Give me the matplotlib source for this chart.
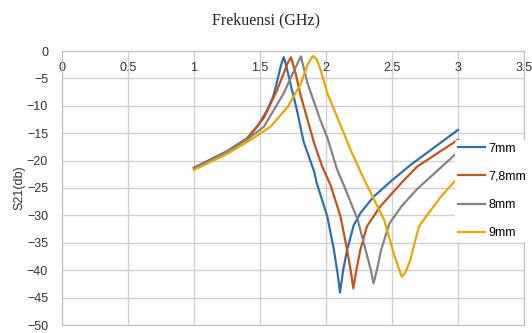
import matplotlib
matplotlib.use("Agg")
import matplotlib.pyplot as plt

# values (frequency GHz, S21 dB)
x_7mm = [1.0, 1.25, 1.4, 1.48, 1.55, 1.6, 1.63, 1.66, 1.68, 1.70, 1.73, 1.78, 1.83, 1.91, 1.93,
         2.01, 2.06, 2.09, 2.106, 2.13, 2.16, 2.21, 2.26, 2.36, 2.5, 2.64, 3.0]
y_7mm = [-21.3, -18.3, -16.0, -13.8, -11.0, -8.3, -5.5, -2.5, -1.1, -2.8, -5.9, -10.8, -16.5, -22.0, -24.1,
         -30.2, -36.3, -41.0, -44.1, -40.0, -36.3, -31.8, -29.6, -26.6, -23.6, -20.8, -14.4]

x_78mm = [1.0, 1.25, 1.4, 1.53, 1.63, 1.71, 1.735, 1.77, 1.81, 1.91, 1.97, 2.035,
          2.11, 2.16, 2.19, 2.207, 2.23, 2.26, 2.31, 2.41, 2.57, 2.69, 3.0]
y_78mm = [-21.4, -18.3, -16.0, -12.2, -7.1, -2.2, -1.15, -4.1, -8.3, -16.8, -21.0, -24.5,
          -30.2, -36.3, -40.5, -43.3, -40.0, -36.3, -32.0, -28.4, -24.1, -21.1, -16.2]

x_8mm = [1.0, 1.25, 1.4, 1.53, 1.68, 1.76, 1.81, 1.86, 1.96, 2.01, 2.085, 2.135,
         2.24, 2.30, 2.34, 2.36, 2.39, 2.415, 2.48, 2.57, 2.69, 3.0]
y_8mm = [-21.5, -18.4, -16.2, -13.8, -7.7, -3.5, -1.0, -5.9, -12.8, -15.8, -21.7, -24.5,
         -30.8, -36.3, -40.0, -42.4, -39.5, -36.5, -31.5, -28.4, -25.2, -18.4]

x_9mm = [1.0, 1.25, 1.43, 1.58, 1.71, 1.81, 1.86, 1.90, 1.93, 1.96, 2.01, 2.135, 2.187, 2.29,
         2.44, 2.52, 2.574, 2.60, 2.64, 2.67, 2.705, 2.74, 2.87, 3.0]
y_9mm = [-21.7, -18.8, -16.2, -13.8, -10.2, -5.9, -2.5, -0.9, -1.5, -3.5, -7.7, -15.0, -18.1, -23.5,
         -30.8, -37.5, -41.2, -40.5, -38.1, -35.1, -32.0, -30.8, -26.6, -23.1]

labels = ["7mm", "7,8mm", "8mm", "9mm"]
colors = ["#2e6fb0", "#c4541a", "#838383", "#e8a800"]

xticks = [0, 0.5, 1, 1.5, 2, 2.5, 3, 3.5]
yticks = [0, -5, -10, -15, -20, -25, -30, -35, -40, -45, -50]

plt.rcParams['font.family'] = ['Liberation Sans', 'DejaVu Sans']

fig = plt.figure(figsize=(5.32, 3.33), dpi=100)
ax = fig.add_axes([62/532, 1 - 325/333, (524 - 62)/532, (325 - 51)/333])

series = [(x_7mm, y_7mm), (x_78mm, y_78mm), (x_8mm, y_8mm), (x_9mm, y_9mm)]
for (xs, ys), lab, c in zip(series, labels, colors):
    ax.plot(xs, ys, color=c, lw=1.6, label=lab)

ax.set_xlim(0, 3.5)
ax.set_ylim(-50, 0)
ax.set_xticks(xticks)
ax.set_xticklabels([f"{t:g}" for t in xticks])
ax.set_yticks(yticks)
ax.grid(True, color="#d0d0d0", lw=1)
ax.set_axisbelow(True)
for s in ax.spines.values():
    s.set_color("#bfbfbf")

ax.tick_params(axis='x', bottom=False, labelbottom=False, top=False, labeltop=True,
               pad=-20, labelsize=9, colors="#333333")
ax.tick_params(axis='y', length=0, pad=10, labelsize=9, colors="#333333")

ax.set_ylabel("S21(db)", fontsize=9, color="#333333", labelpad=1)

fig.text(266/532, 1 - 20/333, "Frekuensi (GHz)", ha='center', va='center',
         fontsize=11.5, family='Liberation Serif', color="#222222")

leg = ax.legend(loc='upper left', bbox_to_anchor=(455/532, 1 - 140/333),
                bbox_transform=fig.transFigure, frameon=True, fontsize=9,
                handlelength=2.2, handletextpad=0.3, labelspacing=1.3,
                borderpad=0.2, borderaxespad=0)
leg.get_frame().set_edgecolor("none")
leg.get_frame().set_facecolor("white")
leg.get_frame().set_alpha(1)

fig.savefig("out.png", dpi=100)
